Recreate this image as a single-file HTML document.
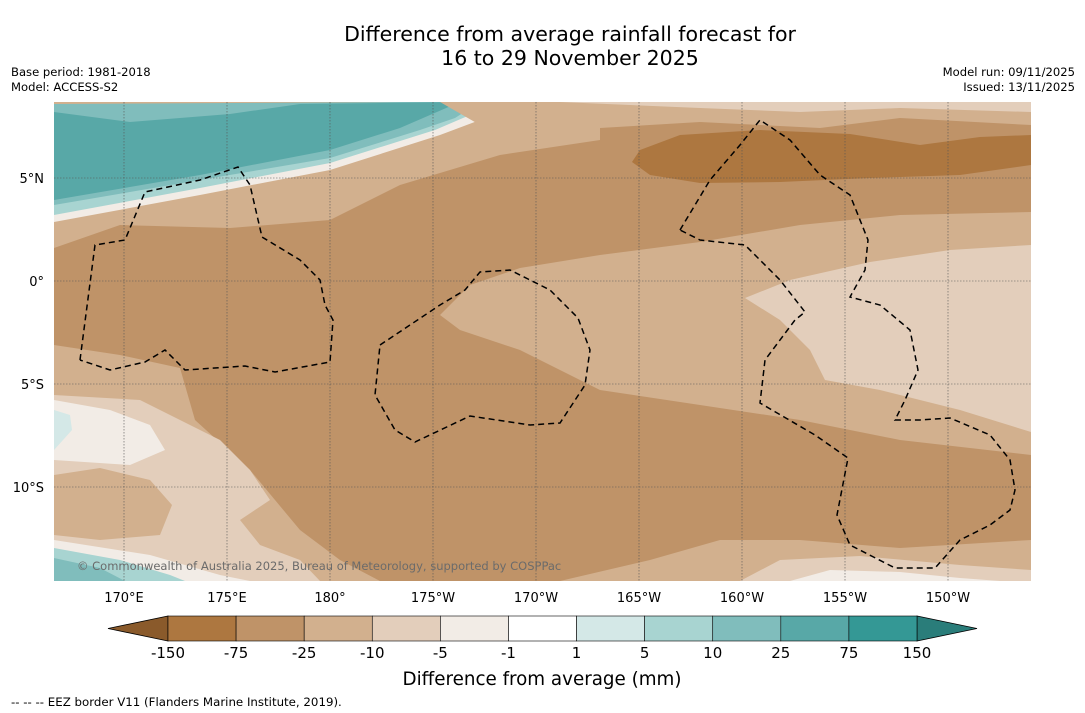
<!DOCTYPE html>
<html><head><meta charset="utf-8"><style>
body{margin:0;background:#fff;font-family:"DejaVu Sans","Liberation Sans",sans-serif;}
#wrap{position:relative;width:1085px;height:713px;overflow:hidden;background:#fff}
.t{position:absolute;color:#000;white-space:nowrap}
svg text{font-family:"DejaVu Sans","Liberation Sans",sans-serif}
</style></head><body>
<div id="wrap">
<div class="t" style="left:0;width:1140px;text-align:center;top:22px;font-size:20.5px;line-height:24px">Difference from average rainfall forecast for<br>16 to 29 November 2025</div>
<div class="t" style="left:11px;top:65px;font-size:11.6px;line-height:15px">Base period: 1981-2018<br>Model: ACCESS-S2</div>
<div class="t" style="right:10px;top:65px;font-size:11.6px;line-height:15px;text-align:right">Model run: 09/11/2025<br>Issued: 13/11/2025</div>
<svg id="map" width="1085" height="713" style="position:absolute;left:0;top:0">
<defs><clipPath id="mc"><rect x="54" y="102" width="977" height="479"/></clipPath></defs>
<g clip-path="url(#mc)">
<rect x="54" y="102" width="977" height="479" fill="#bf9368"/>
<path d="M54,102 L600,102 L600,140 L500,155 L400,185 L330,220 L230,228 L120,225 L54,248 Z" fill="#d2b08e"/>
<path d="M54,102 L520,102 L480,120 L440,135 L330,170 L200,195 L54,222 Z" fill="#f2ece6"/>
<path d="M54,102 L500,102 L470,115 L435,130 L330,163 L200,188 L54,215 Z" fill="#a8d4d1"/>
<path d="M54,102 L480,102 L455,118 L420,130 L330,158 L200,180 L54,205 Z" fill="#80bdbc"/>
<path d="M54,112 L130,122 L230,114 L300,104 L460,102 L430,115 L400,128 L330,150 L200,175 L54,200 Z" fill="#58a8a7"/>
<path d="M54,102 L400,102 L54,104 Z" fill="#d2b08e"/>
<path d="M440,102 L1031,102 L1031,125 L900,118 L820,128 L700,122 L600,128 L520,130 L480,125 Z" fill="#d2b08e"/>
<path d="M560,102 L1031,102 L1031,112 L900,108 L800,112 L700,108 Z" fill="#e3cebb"/>
<path d="M640,150 L680,135 L760,130 L850,134 L920,145 L980,137 L1031,135 L1031,165 L960,175 L870,178 L780,182 L700,183 L650,175 L632,162 Z" fill="#ad7740"/>
<path d="M440,315 L470,285 L520,268 L600,255 L700,242 L800,225 L900,215 L1031,212 L1031,455 L900,440 L800,420 L700,405 L600,390 L520,350 L460,330 Z" fill="#d2b08e"/>
<path d="M745,298 L790,280 L870,262 L950,250 L1031,245 L1031,432 L960,410 L880,390 L825,380 L810,350 L780,320 Z" fill="#e3cebb"/>
<path d="M54,345 L120,355 L180,368 L195,420 L250,470 L300,530 L340,560 L380,581 L54,581 Z" fill="#d2b08e"/>
<path d="M54,395 L140,400 L180,420 L220,440 L250,470 L270,500 L240,520 L260,545 L300,560 L320,581 L54,581 Z" fill="#e3cebb"/>
<path d="M54,400 L110,410 L150,425 L165,450 L130,465 L54,460 Z" fill="#f2ece6"/>
<path d="M54,410 L70,415 L72,430 L54,450 Z" fill="#d4e8e7"/>
<path d="M54,475 L100,468 L150,480 L172,505 L160,535 L100,540 L54,535 Z" fill="#d2b08e"/>
<path d="M54,540 L150,555 L220,575 L250,581 L54,581 Z" fill="#f2ece6"/>
<path d="M54,548 L120,560 L170,575 L185,581 L54,581 Z" fill="#a8d4d1"/>
<path d="M54,558 L100,568 L125,581 L54,581 Z" fill="#80bdbc"/>
<path d="M560,581 L650,560 L720,540 L800,540 L900,548 L1031,540 L1031,581 Z" fill="#d2b08e"/>
<path d="M740,581 L780,560 L860,556 L960,565 L1031,570 L1031,581 Z" fill="#e3cebb"/>
<path d="M790,581 L830,570 L900,572 L960,578 L1000,581 Z" fill="#f2ece6"/>
</g>
<g id="grid" stroke="#555" stroke-width="0.6" stroke-dasharray="1.5,1.5" fill="none" clip-path="url(#mc)"></g>
<g fill="none" stroke="#000" stroke-width="1.5" stroke-dasharray="6,4">
<polyline points="80,360 95,245 125,240 145,192 200,180 238,167 250,185 262,237 300,260 320,280 325,305 333,320 330,362 275,372 245,366 185,370 165,350 145,362 110,370 80,360"/>
<polyline points="380,345 440,305 465,290 480,272 510,270 550,290 578,318 590,350 585,385 560,423 530,425 470,416 415,442 395,430 375,395 380,345"/>
<polyline points="680,230 710,180 740,145 760,120 790,140 820,175 850,195 868,240 865,270 850,297 880,305 910,330 918,370 905,400 895,420 920,420 950,418 990,435 1010,460 1015,490 1010,510 990,525 960,540 935,568 895,568 850,545 837,515 848,458 815,435 760,403 765,360 795,320 805,312 780,280 745,245 700,240 680,230"/>
</g>
<text x="77" y="570" font-size="11.5" fill="#6b6b6b">© Commonwealth of Australia 2025, Bureau of Meteorology, supported by COSPPac</text>
<g id="xt" font-size="13" text-anchor="middle"></g>
<g id="yt" font-size="13" text-anchor="end"></g>
<g id="cb"></g>
<text x="542" y="685" font-size="18.3" text-anchor="middle">Difference from average (mm)</text>
<text x="11" y="706" font-size="11.8">--  --  -- EEZ border V11 (Flanders Marine Institute, 2019).</text>
</svg>
</div>
<script>
const lonTicks=[170,175,180,-175,-170,-165,-160,-155,-150];
const lonLabels=["170°E","175°E","180°","175°W","170°W","165°W","160°W","155°W","150°W"];
const latTicks=[5,0,-5,-10];
const latLabels=["5°N","0°","5°S","10°S"];
const cbLabels=["-150","-75","-25","-10","-5","-1","1","5","10","25","75","150"];
const cbColors=["#ad7740","#bf9368","#d2b08e","#e3cebb","#f2ece6","#ffffff","#d4e8e7","#a8d4d1","#80bdbc","#58a8a7","#349895"];
const NS="http://www.w3.org/2000/svg";
function xs(lon){const e=lon<0?360+lon:lon;return 124+(e-170)*20.6;}
function ys(lat){return 281-lat*20.6;}
function mk(t,a,p){const e=document.createElementNS(NS,t);for(const k in a)e.setAttribute(k,a[k]);p.appendChild(e);return e;}
const g=document.getElementById('grid'),xt=document.getElementById('xt'),yt=document.getElementById('yt'),cb=document.getElementById('cb');
lonTicks.forEach((l,i)=>{const x=xs(l);
const ln=mk('line',{x1:x,x2:x,y1:102,y2:581},g);


const t=mk('text',{x:x,y:602},xt);t.textContent=lonLabels[i];

});
latTicks.forEach((l,i)=>{const y=ys(l);
const ln=mk('line',{x1:54,x2:1031,y1:y,y2:y},g);


const t=mk('text',{x:44,y:y+5},yt);t.textContent=latLabels[i];

});
const x0=168,x1=917,w=(x1-x0)/cbColors.length,cy=616,ch=25;
const lt=mk('polygon',{points:`108,${cy+ch/2} ${x0},${cy} ${x0},${cy+ch}`,fill:'#8a5a2b',stroke:'#000','stroke-width':0.8},cb);


const rt=mk('polygon',{points:`977,${cy+ch/2} ${x1},${cy} ${x1},${cy+ch}`,fill:'#2a7d7a',stroke:'#000','stroke-width':0.8},cb);


cbColors.forEach((c,i)=>{const r=mk('rect',{x:x0+i*w,y:cy,width:w,height:ch,fill:c,stroke:'#000','stroke-width':0.6},cb);

});
cbLabels.forEach((s,i)=>{const t=mk('text',{x:x0+i*w,y:658,'font-size':15,'text-anchor':'middle'},cb);t.textContent=s;

});
</script>
</body></html>
